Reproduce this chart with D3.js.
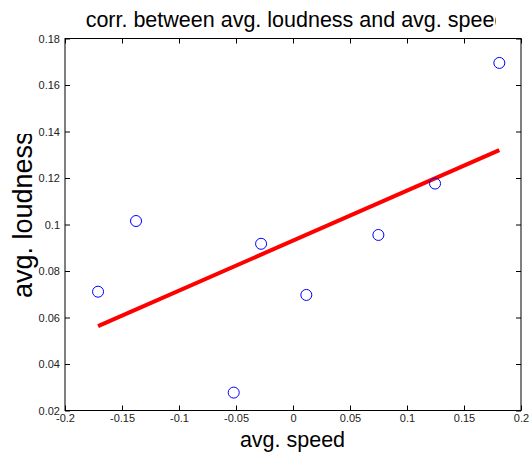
<!DOCTYPE html>
<html>
<head>
<meta charset="utf-8">
<script src="https://cdn.jsdelivr.net/npm/d3@7"></script>
<style>
  html, body { margin: 0; padding: 0; background: #fff; }
  svg { display: block; }
</style>
</head>
<body>
<script>
// ---- data ----
const speed    = [-0.171, -0.1377, -0.052, -0.028, 0.0117, 0.0749, 0.1246, 0.181];
const loudness = [0.0711, 0.1015, 0.0277, 0.0917, 0.0697, 0.0955, 0.1176, 0.1695];
const fitX = [-0.171, 0.181];
const fitY = [0.0563, 0.1320];
const xTicks = [-0.2, -0.15, -0.1, -0.05, 0, 0.05, 0.1, 0.15, 0.2];
const xTickLabels = ["-0.2", "-0.15", "-0.1", "-0.05", "0", "0.05", "0.1", "0.15", "0.2"];
const yTicks = [0.02, 0.04, 0.06, 0.08, 0.1, 0.12, 0.14, 0.16, 0.18];
const yTickLabels = ["0.02", "0.04", "0.06", "0.08", "0.1", "0.12", "0.14", "0.16", "0.18"];
const titleText = "corr. between avg. loudness and avg. speed";
const xLabelText = "avg. speed";
const yLabelText = "avg. loudness";

// ---- layout ----
const W = 529, H = 457;
const L = 65, R = 521, T = 38.5, B = 410.5;
const font = "'Liberation Sans', Arial, Helvetica, sans-serif";

const svg = d3.select("body").append("svg").attr("width", W).attr("height", H);

const x = d3.scaleLinear().domain([-0.2, 0.2]).range([L, R]);
const y = d3.scaleLinear().domain([0.02, 0.18]).range([B, T]);

const defs = svg.append("defs");
defs.append("clipPath").attr("id", "titleClip")
  .append("rect").attr("x", 0).attr("y", 0).attr("width", 496).attr("height", 36);
defs.append("clipPath").attr("id", "ylabClip")
  .append("rect").attr("x", 0).attr("y", 134).attr("width", 60).attr("height", 200);

// axes with inward ticks on all sides
const tickLen = 5;
function styleAxis(g) {
  g.selectAll("path.domain").remove();
  g.selectAll(".tick line").attr("stroke", "#000").attr("stroke-width", 1);
  g.selectAll(".tick text").attr("font-family", font).attr("font-size", 11).attr("fill", "#222");
}
const fmtX = (d, i) => xTickLabels[i];
const fmtY = (d, i) => yTickLabels[i];

// bottom
svg.append("g").attr("transform", `translate(0,${B})`)
  .call(d3.axisBottom(x).tickValues(xTicks).tickFormat(fmtX).tickSizeInner(-tickLen).tickSizeOuter(0).tickPadding(4))
  .call(styleAxis)
  .call(g => g.selectAll(".tick text").attr("y", 4).attr("dy", "0.71em"));
// top
svg.append("g").attr("transform", `translate(0,${T})`)
  .call(d3.axisTop(x).tickValues(xTicks).tickFormat("").tickSizeInner(-tickLen).tickSizeOuter(0))
  .call(styleAxis);
// left
svg.append("g").attr("transform", `translate(${L},0)`)
  .call(d3.axisLeft(y).tickValues(yTicks).tickFormat(fmtY).tickSizeInner(-tickLen).tickSizeOuter(0))
  .call(styleAxis)
  .call(g => g.selectAll(".tick text").attr("x", -5));
// right
svg.append("g").attr("transform", `translate(${R},0)`)
  .call(d3.axisRight(y).tickValues(yTicks).tickFormat("").tickSizeInner(-tickLen).tickSizeOuter(0))
  .call(styleAxis);

// frame
svg.append("rect").attr("x", L).attr("y", T).attr("width", R - L).attr("height", B - T)
  .attr("fill", "none").attr("stroke", "#000").attr("stroke-width", 1);

// fit line
const fit = fitX.map((v, i) => [v, fitY[i]]);
svg.append("path").datum(fit)
  .attr("d", d3.line().x(d => x(d[0])).y(d => y(d[1])))
  .attr("stroke", "#ff0000").attr("stroke-width", 4).attr("fill", "none");

// points
svg.append("g").selectAll("circle").data(speed.map((v, i) => [v, loudness[i]]))
  .join("circle")
  .attr("cx", d => x(d[0])).attr("cy", d => y(d[1])).attr("r", 5.5)
  .attr("fill", "none").attr("stroke", "#0000ff").attr("stroke-width", 1);

// title
svg.append("text").attr("clip-path", "url(#titleClip)")
  .attr("x", 296).attr("y", 27).attr("text-anchor", "middle")
  .attr("font-family", font).attr("font-size", 21.5).attr("fill", "#000")
  .text(titleText);

// x label
svg.append("text")
  .attr("x", 292.5).attr("y", 447).attr("text-anchor", "middle")
  .attr("font-family", font).attr("font-size", 21.5).attr("fill", "#000")
  .text(xLabelText);

// y label
svg.append("g").attr("clip-path", "url(#ylabClip)")
  .append("text")
  .attr("transform", "translate(32,298) rotate(-90)")
  .attr("text-anchor", "start")
  .attr("font-family", font).attr("font-size", 27).attr("fill", "#000")
  .text(yLabelText);
</script>
</body>
</html>
